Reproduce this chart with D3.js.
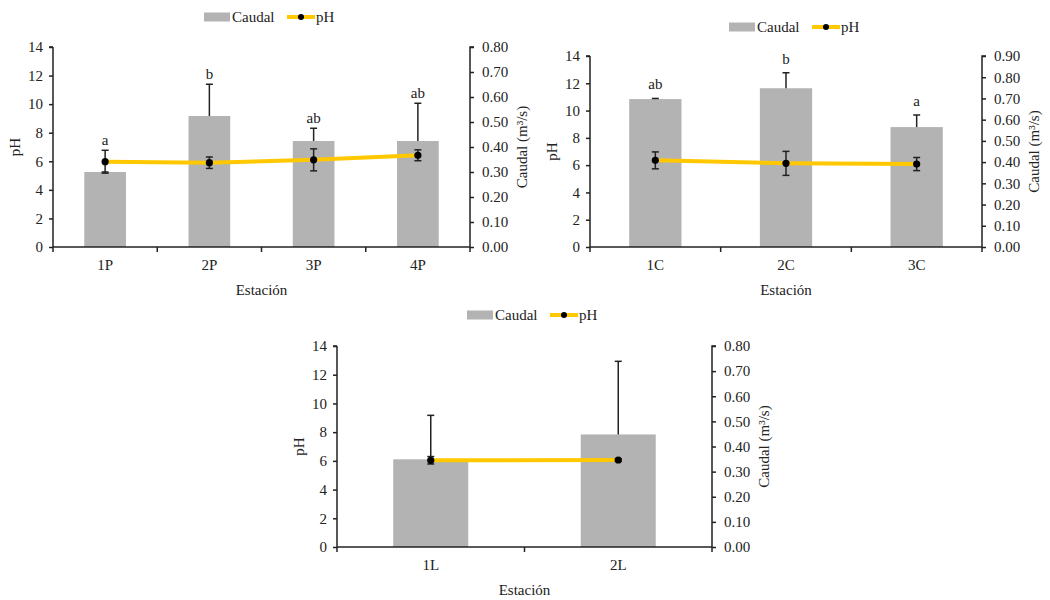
<!DOCTYPE html>
<html><head><meta charset="utf-8">
<script src="https://cdn.jsdelivr.net/npm/d3@7"></script>
<style>
body{margin:0;background:#fff;}
svg{display:block;}
text{font-family:"Liberation Serif","Times New Roman",serif;fill:#222;}
</style></head>
<body>
<svg id="c" width="1050" height="600"></svg>
<script>
// ---- Data ----
const stationsP = ["1P","2P","3P","4P"];
const caudalP = [0.30, 0.524, 0.424, 0.424];
const caudalErrP = [0.0, 0.127, 0.051, 0.151];
const phP = [5.97, 5.9, 6.1, 6.42];
const phErrP = [0.8, 0.4, 0.77, 0.38];
const lettersP = ["a","b","ab","ab"];

const stationsC = ["1C","2C","3C"];
const caudalC = [0.697, 0.748, 0.565];
const caudalErrC = [0.003, 0.073, 0.057];
const phC = [6.35, 6.13, 6.08];
const phErrC = [0.62, 0.88, 0.48];
const lettersC = ["ab","b","a"];

const stationsL = ["1L","2L"];
const caudalL = [0.349, 0.448];
const caudalErrL = [0.175, 0.291];
const phL = [6.04, 6.06];
const phErrL = [0.26, 0.08];
const lettersL = ["",""];

const phTicks = [0,2,4,6,8,10,12,14];
const qTicks8 = [0,0.1,0.2,0.3,0.4,0.5,0.6,0.7,0.8];
const qTicks9 = [0,0.1,0.2,0.3,0.4,0.5,0.6,0.7,0.8,0.9];
const seriesNames = ["Caudal","pH"];
const xTitle = "Estación";
const yLeftTitle = "pH";
const yRightTitle = "Caudal (m³/s)";

const svg = d3.select("#c");
const FS = 15;
const axisColor = "#222";

function drawChart(o){
  const g = svg.append("g");
  const x = d3.scaleBand().domain(o.stations).range([o.left, o.right]).padding(0);
  const yPh = d3.scaleLinear().domain([0,14]).range([o.bottom, o.top]);
  const yQ = d3.scaleLinear().domain([0,o.qMax]).range([o.bottom, o.top]);
  const bw = x.bandwidth()*0.4;
  const cx = d => x(d)+x.bandwidth()/2;

  // bars
  g.selectAll("rect.bar").data(o.stations).enter().append("rect")
    .attr("x", d=>cx(d)-bw/2).attr("width", bw)
    .attr("y", (d,i)=>yQ(o.caudal[i]))
    .attr("height",(d,i)=>o.bottom - yQ(o.caudal[i]))
    .attr("fill","#b3b3b3");

  // caudal error bars (positive only)
  o.stations.forEach((d,i)=>{
    const y0 = yQ(o.caudal[i]), y1 = yQ(o.caudal[i]+o.caudalErr[i]);
    g.append("line").attr("x1",cx(d)).attr("x2",cx(d)).attr("y1",y0).attr("y2",y1)
      .attr("stroke","#222").attr("stroke-width",1.5);
    g.append("line").attr("x1",cx(d)-3.5).attr("x2",cx(d)+3.5).attr("y1",y1).attr("y2",y1)
      .attr("stroke","#222").attr("stroke-width",1.5);
  });

  // pH line
  const line = d3.line().x((d,i)=>cx(o.stations[i])).y(d=>yPh(d));
  g.append("path").datum(o.ph).attr("d",line).attr("fill","none")
    .attr("stroke","#ffc800").attr("stroke-width",4);

  // pH error bars
  o.stations.forEach((d,i)=>{
    const ya = yPh(o.ph[i]-o.phErr[i]), yb = yPh(o.ph[i]+o.phErr[i]);
    g.append("line").attr("x1",cx(d)).attr("x2",cx(d)).attr("y1",ya).attr("y2",yb)
      .attr("stroke","#222").attr("stroke-width",1.5);
    [ya,yb].forEach(yy=>g.append("line").attr("x1",cx(d)-3.5).attr("x2",cx(d)+3.5)
      .attr("y1",yy).attr("y2",yy).attr("stroke","#222").attr("stroke-width",1.5));
  });
  g.selectAll("circle.pt").data(o.ph).enter().append("circle")
    .attr("cx",(d,i)=>cx(o.stations[i])).attr("cy",d=>yPh(d)).attr("r",3.6).attr("fill","#000");

  // letters
  o.stations.forEach((d,i)=>{
    if(!o.letters[i]) return;
    const top = Math.min(yQ(o.caudal[i]+o.caudalErr[i]), yPh(o.ph[i]+o.phErr[i]));
    g.append("text").attr("x",cx(d)).attr("y",top-o.letterGap)
      .attr("text-anchor","middle").attr("font-size",FS).text(o.letters[i]);
  });

  // axes
  const axL = d3.axisLeft(yPh).tickValues(phTicks).tickSize(4).tickPadding(6).tickFormat(d3.format("d"));
  const axR = d3.axisRight(yQ).tickValues(o.qTicks).tickSize(4).tickPadding(8).tickFormat(d3.format(".2f"));
  const axB = d3.axisBottom(x).tickSize(0).tickPadding(12);
  const gl = g.append("g").attr("transform",`translate(${o.left},0)`).call(axL);
  const gr = g.append("g").attr("transform",`translate(${o.right},0)`).call(axR);
  const gb = g.append("g").attr("transform",`translate(0,${o.bottom})`).call(axB);
  [gl,gr,gb].forEach(a=>{
    a.select(".domain").attr("stroke",axisColor).attr("stroke-width",1.5);
    a.selectAll(".tick line").attr("stroke",axisColor).attr("stroke-width",1.5);
    a.selectAll("text").attr("font-size",FS).attr("font-family","Liberation Serif").attr("fill","#222");
  });
  gl.select(".domain").attr("d",`M0,${o.top}H-4M0,${o.top}V${o.bottom}`);
  gr.select(".domain").attr("d",`M4,${o.top}H0V${o.bottom}`);
  gb.select(".domain").attr("d",`M${o.left},0H${o.right}`);
  // category boundary ticks
  const bounds = o.stations.map(d=>x(d)).concat([o.right]);
  gb.selectAll("line.bt").data(bounds).enter().append("line")
    .attr("x1",d=>d).attr("x2",d=>d).attr("y1",0).attr("y2",5)
    .attr("stroke",axisColor).attr("stroke-width",1.5);

  // titles
  g.append("text").attr("x",(o.left+o.right)/2).attr("y",o.bottom+48)
    .attr("text-anchor","middle").attr("font-size",FS).text(xTitle);
  g.append("text").attr("transform",`translate(${o.left-33},${(o.top+o.bottom)/2}) rotate(-90)`)
    .attr("text-anchor","middle").attr("font-size",FS).text(yLeftTitle);
  g.append("text").attr("transform",`translate(${o.right+57},${(o.top+o.bottom)/2}) rotate(-90)`)
    .attr("text-anchor","middle").attr("font-size",FS).text(yRightTitle);

  // legend
  const lg = g.append("g").attr("transform",`translate(${o.legX},${o.legY})`);
  lg.append("rect").attr("x",0).attr("y",-4.5).attr("width",26).attr("height",9).attr("fill","#b3b3b3");
  lg.append("text").attr("x",28).attr("y",5).attr("font-size",FS).text(seriesNames[0]);
  lg.append("line").attr("x1",83).attr("x2",111).attr("y1",0).attr("y2",0)
    .attr("stroke","#ffc800").attr("stroke-width",4);
  lg.append("circle").attr("cx",97).attr("cy",0).attr("r",3).attr("fill","#000");
  lg.append("text").attr("x",112).attr("y",5).attr("font-size",FS).text(seriesNames[1]);
}

drawChart({stations:stationsP, caudal:caudalP, caudalErr:caudalErrP, ph:phP, phErr:phErrP,
  letters:lettersP, qMax:0.8, qTicks:qTicks8, left:53, right:470, top:47, bottom:247,
  letterGap:5, legX:204, legY:17});
drawChart({stations:stationsC, caudal:caudalC, caudalErr:caudalErrC, ph:phC, phErr:phErrC,
  letters:lettersC, qMax:0.9, qTicks:qTicks9, left:590, right:982, top:56, bottom:247,
  letterGap:9, legX:729, legY:27});
drawChart({stations:stationsL, caudal:caudalL, caudalErr:caudalErrL, ph:phL, phErr:phErrL,
  letters:lettersL, qMax:0.8, qTicks:qTicks8, left:337, right:712, top:346, bottom:547,
  letterGap:5, legX:467, legY:315});
</script>
</body></html>
